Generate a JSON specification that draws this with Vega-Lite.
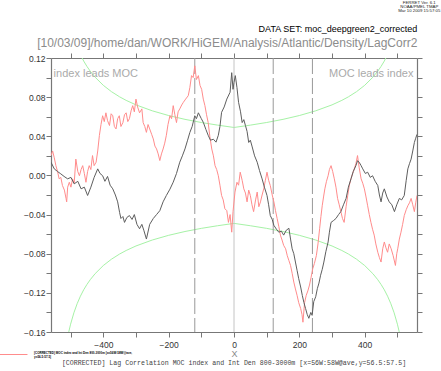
{
  "$schema": "https://vega.github.io/schema/vega-lite/v6.json",
  "width": 366,
  "height": 274,
  "autosize": {"type": "none"},
  "padding": {"left": 51, "top": 58, "right": 24, "bottom": 39},
  "background": "white",
  "view": {"stroke": null},
  "datasets": {
    "black": [
      {"lag":-560,"r":0.0135},{"lag":-550,"r":0.0067},{"lag":-540,"r":0.004},{"lag":-530,"r":0.0016},{"lag":-520,"r":-0.001},{"lag":-509,"r":-0.0035},{"lag":-499,"r":-0.002},{"lag":-489,"r":-0.0086},{"lag":-478,"r":-0.006},{"lag":-468,"r":-0.0137},{"lag":-458,"r":-0.012},{"lag":-448,"r":-0.0205},{"lag":-438,"r":-0.012},{"lag":-428,"r":-0.002},{"lag":-417,"r":0.0067},{"lag":-410,"r":0.002},{"lag":-402,"r":-0.0003},{"lag":-395,"r":-0.006},{"lag":-387,"r":-0.001},{"lag":-379,"r":-0.01},{"lag":-371,"r":-0.0137},{"lag":-363,"r":-0.02},{"lag":-356,"r":-0.027},{"lag":-350,"r":-0.038},{"lag":-346,"r":-0.044},{"lag":-340,"r":-0.042},{"lag":-335,"r":-0.048},{"lag":-328,"r":-0.043},{"lag":-320,"r":-0.041},{"lag":-312,"r":-0.045},{"lag":-305,"r":-0.04},{"lag":-297,"r":-0.05},{"lag":-289,"r":-0.0545},{"lag":-282,"r":-0.05},{"lag":-276,"r":-0.056},{"lag":-268,"r":-0.065},{"lag":-258,"r":-0.05},{"lag":-247,"r":-0.044},{"lag":-237,"r":-0.04},{"lag":-227,"r":-0.036},{"lag":-217,"r":-0.027},{"lag":-207,"r":-0.0205},{"lag":-196,"r":-0.014},{"lag":-186,"r":-0.0069},{"lag":-176,"r":0.002},{"lag":-166,"r":0.0135},{"lag":-158,"r":0.02},{"lag":-150,"r":0.0271},{"lag":-142,"r":0.036},{"lag":-135,"r":0.044},{"lag":-128,"r":0.05},{"lag":-120,"r":0.061},{"lag":-115,"r":0.058},{"lag":-109,"r":0.064},{"lag":-100,"r":0.058},{"lag":-94,"r":0.0543},{"lag":-86,"r":0.047},{"lag":-79,"r":0.041},{"lag":-72,"r":0.036},{"lag":-63,"r":0.037},{"lag":-55,"r":0.034},{"lag":-48,"r":0.041},{"lag":-43,"r":0.05},{"lag":-38,"r":0.0645},{"lag":-30,"r":0.07},{"lag":-22,"r":0.078},{"lag":-12,"r":0.085},{"lag":-7,"r":0.105},{"lag":-3,"r":0.088},{"lag":0,"r":0.095},{"lag":4,"r":0.102},{"lag":9,"r":0.09},{"lag":14,"r":0.0747},{"lag":20,"r":0.065},{"lag":25,"r":0.054},{"lag":30,"r":0.057},{"lag":35,"r":0.051},{"lag":40,"r":0.045},{"lag":45,"r":0.0337},{"lag":50,"r":0.036},{"lag":55,"r":0.03},{"lag":63,"r":0.02},{"lag":71,"r":0.0135},{"lag":78,"r":0.005},{"lag":86,"r":-0.0035},{"lag":93,"r":-0.012},{"lag":101,"r":-0.0205},{"lag":106,"r":-0.03},{"lag":111,"r":-0.041},{"lag":117,"r":-0.045},{"lag":122,"r":-0.051},{"lag":130,"r":-0.055},{"lag":137,"r":-0.058},{"lag":145,"r":-0.057},{"lag":152,"r":-0.061},{"lag":160,"r":-0.056},{"lag":168,"r":-0.054},{"lag":173,"r":-0.065},{"lag":178,"r":-0.075},{"lag":183,"r":-0.08},{"lag":188,"r":-0.0885},{"lag":193,"r":-0.097},{"lag":198,"r":-0.1055},{"lag":204,"r":-0.114},{"lag":209,"r":-0.1226},{"lag":214,"r":-0.13},{"lag":219,"r":-0.136},{"lag":224,"r":-0.142},{"lag":229,"r":-0.146},{"lag":235,"r":-0.14},{"lag":239,"r":-0.143},{"lag":244,"r":-0.129},{"lag":250,"r":-0.124},{"lag":255,"r":-0.1157},{"lag":260,"r":-0.11},{"lag":265,"r":-0.102},{"lag":270,"r":-0.096},{"lag":275,"r":-0.0885},{"lag":281,"r":-0.078},{"lag":288,"r":-0.068},{"lag":292,"r":-0.058},{"lag":297,"r":-0.048},{"lag":305,"r":-0.046},{"lag":312,"r":-0.044},{"lag":320,"r":-0.04},{"lag":327,"r":-0.037},{"lag":335,"r":-0.03},{"lag":343,"r":-0.0235},{"lag":350,"r":-0.012},{"lag":358,"r":-0.0035},{"lag":365,"r":0.004},{"lag":373,"r":0.01},{"lag":378,"r":0.015},{"lag":383,"r":0.0135},{"lag":389,"r":0.01},{"lag":394,"r":0.0067},{"lag":402,"r":0.002},{"lag":409,"r":0.0033},{"lag":417,"r":-0.002},{"lag":424,"r":-0.0003},{"lag":432,"r":-0.006},{"lag":440,"r":-0.0103},{"lag":445,"r":-0.02},{"lag":450,"r":-0.027},{"lag":455,"r":-0.018},{"lag":460,"r":-0.0137},{"lag":468,"r":-0.022},{"lag":475,"r":-0.027},{"lag":483,"r":-0.03},{"lag":491,"r":-0.037},{"lag":498,"r":-0.03},{"lag":506,"r":-0.0235},{"lag":513,"r":-0.025},{"lag":521,"r":-0.0205},{"lag":527,"r":-0.005},{"lag":532,"r":0.0067},{"lag":537,"r":0.012},{"lag":542,"r":0.0167},{"lag":547,"r":0.025},{"lag":552,"r":0.0337},{"lag":556,"r":0.038},{"lag":560,"r":0.042}
    ],
    "red": [
      {"lag":-560,"r":0.0203},{"lag":-555,"r":0.025},{"lag":-550,"r":0.018},{"lag":-545,"r":0.01},{"lag":-540,"r":0.004},{"lag":-535,"r":-0.0035},{"lag":-530,"r":-0.002},{"lag":-525,"r":-0.0103},{"lag":-519,"r":-0.015},{"lag":-514,"r":-0.0235},{"lag":-512,"r":-0.027},{"lag":-509,"r":-0.012},{"lag":-504,"r":-0.007},{"lag":-499,"r":-0.012},{"lag":-494,"r":-0.0035},{"lag":-489,"r":-0.008},{"lag":-484,"r":0.0167},{"lag":-478,"r":0.004},{"lag":-473,"r":-0.0003},{"lag":-468,"r":0.006},{"lag":-463,"r":0.01},{"lag":-458,"r":0.002},{"lag":-453,"r":-0.007},{"lag":-448,"r":0.004},{"lag":-443,"r":0.01},{"lag":-438,"r":0.006},{"lag":-433,"r":0.0203},{"lag":-428,"r":0.01},{"lag":-422,"r":0.0135},{"lag":-417,"r":0.025},{"lag":-412,"r":0.0407},{"lag":-407,"r":0.052},{"lag":-402,"r":0.061},{"lag":-397,"r":0.055},{"lag":-392,"r":0.064},{"lag":-387,"r":0.056},{"lag":-381,"r":0.051},{"lag":-376,"r":0.063},{"lag":-371,"r":0.061},{"lag":-366,"r":0.05},{"lag":-361,"r":0.0475},{"lag":-356,"r":0.058},{"lag":-351,"r":0.061},{"lag":-346,"r":0.05},{"lag":-340,"r":0.054},{"lag":-335,"r":0.062},{"lag":-330,"r":0.064},{"lag":-325,"r":0.055},{"lag":-320,"r":0.058},{"lag":-315,"r":0.066},{"lag":-310,"r":0.0713},{"lag":-305,"r":0.065},{"lag":-300,"r":0.078},{"lag":-295,"r":0.07},{"lag":-289,"r":0.064},{"lag":-282,"r":0.068},{"lag":-278,"r":0.054},{"lag":-273,"r":0.05},{"lag":-268,"r":0.044},{"lag":-263,"r":0.052},{"lag":-258,"r":0.0475},{"lag":-252,"r":0.042},{"lag":-247,"r":0.0373},{"lag":-242,"r":0.03},{"lag":-237,"r":0.0271},{"lag":-232,"r":0.022},{"lag":-227,"r":0.0152},{"lag":-222,"r":0.022},{"lag":-217,"r":0.027},{"lag":-212,"r":0.033},{"lag":-207,"r":0.041},{"lag":-202,"r":0.052},{"lag":-196,"r":0.061},{"lag":-191,"r":0.058},{"lag":-186,"r":0.0713},{"lag":-181,"r":0.062},{"lag":-176,"r":0.054},{"lag":-171,"r":0.065},{"lag":-166,"r":0.068},{"lag":-160,"r":0.072},{"lag":-155,"r":0.0747},{"lag":-148,"r":0.078},{"lag":-140,"r":0.0815},{"lag":-135,"r":0.09},{"lag":-130,"r":0.102},{"lag":-125,"r":0.1},{"lag":-120,"r":0.112},{"lag":-115,"r":0.098},{"lag":-109,"r":0.102},{"lag":-104,"r":0.092},{"lag":-99,"r":0.088},{"lag":-94,"r":0.078},{"lag":-89,"r":0.0713},{"lag":-84,"r":0.062},{"lag":-79,"r":0.054},{"lag":-74,"r":0.04},{"lag":-68,"r":0.027},{"lag":-63,"r":0.02},{"lag":-58,"r":0.01},{"lag":-53,"r":0.006},{"lag":-48,"r":-0.0003},{"lag":-43,"r":-0.01},{"lag":-38,"r":-0.0205},{"lag":-33,"r":-0.025},{"lag":-28,"r":-0.034},{"lag":-22,"r":-0.036},{"lag":-17,"r":-0.048},{"lag":-12,"r":-0.04},{"lag":-7,"r":-0.058},{"lag":-3,"r":-0.037},{"lag":3,"r":-0.017},{"lag":9,"r":-0.007},{"lag":14,"r":-0.01},{"lag":19,"r":0.0033},{"lag":25,"r":-0.005},{"lag":30,"r":-0.0137},{"lag":35,"r":-0.018},{"lag":40,"r":-0.027},{"lag":45,"r":-0.015},{"lag":50,"r":-0.0205},{"lag":55,"r":-0.03},{"lag":60,"r":-0.037},{"lag":66,"r":-0.025},{"lag":71,"r":-0.017},{"lag":76,"r":-0.032},{"lag":81,"r":-0.027},{"lag":86,"r":-0.02},{"lag":91,"r":-0.0137},{"lag":96,"r":-0.005},{"lag":101,"r":0.0033},{"lag":106,"r":-0.005},{"lag":111,"r":-0.0103},{"lag":117,"r":-0.02},{"lag":122,"r":-0.027},{"lag":127,"r":-0.036},{"lag":132,"r":-0.044},{"lag":137,"r":-0.052},{"lag":142,"r":-0.061},{"lag":147,"r":-0.066},{"lag":152,"r":-0.0715},{"lag":158,"r":-0.075},{"lag":163,"r":-0.082},{"lag":168,"r":-0.087},{"lag":173,"r":-0.092},{"lag":178,"r":-0.1},{"lag":183,"r":-0.109},{"lag":188,"r":-0.116},{"lag":193,"r":-0.1225},{"lag":198,"r":-0.13},{"lag":204,"r":-0.136},{"lag":208,"r":-0.142},{"lag":211,"r":-0.15},{"lag":216,"r":-0.13},{"lag":221,"r":-0.1225},{"lag":226,"r":-0.118},{"lag":231,"r":-0.112},{"lag":236,"r":-0.104},{"lag":241,"r":-0.0953},{"lag":246,"r":-0.09},{"lag":252,"r":-0.082},{"lag":257,"r":-0.07},{"lag":262,"r":-0.0545},{"lag":266,"r":-0.042},{"lag":270,"r":-0.031},{"lag":274,"r":-0.022},{"lag":278,"r":-0.0137},{"lag":283,"r":-0.006},{"lag":288,"r":-0.0003},{"lag":292,"r":0.006},{"lag":297,"r":0.01},{"lag":302,"r":0.004},{"lag":307,"r":-0.0035},{"lag":312,"r":-0.012},{"lag":317,"r":-0.0235},{"lag":322,"r":-0.03},{"lag":327,"r":-0.037},{"lag":332,"r":-0.044},{"lag":337,"r":-0.048},{"lag":343,"r":-0.032},{"lag":348,"r":-0.0205},{"lag":353,"r":-0.01},{"lag":358,"r":-0.0035},{"lag":363,"r":0.002},{"lag":368,"r":0.0067},{"lag":373,"r":0.012},{"lag":378,"r":0.0203},{"lag":383,"r":0.008},{"lag":389,"r":-0.0035},{"lag":394,"r":-0.008},{"lag":399,"r":-0.0137},{"lag":404,"r":-0.022},{"lag":409,"r":-0.031},{"lag":414,"r":-0.04},{"lag":419,"r":-0.048},{"lag":424,"r":-0.055},{"lag":429,"r":-0.061},{"lag":434,"r":-0.07},{"lag":440,"r":-0.0785},{"lag":445,"r":-0.084},{"lag":450,"r":-0.0885},{"lag":455,"r":-0.075},{"lag":460,"r":-0.068},{"lag":465,"r":-0.074},{"lag":470,"r":-0.0785},{"lag":475,"r":-0.07},{"lag":481,"r":-0.075},{"lag":487,"r":-0.082},{"lag":494,"r":-0.092},{"lag":498,"r":-0.08},{"lag":501,"r":-0.075},{"lag":506,"r":-0.065},{"lag":511,"r":-0.058},{"lag":516,"r":-0.05},{"lag":521,"r":-0.041},{"lag":527,"r":-0.035},{"lag":532,"r":-0.031},{"lag":537,"r":-0.028},{"lag":542,"r":-0.0235},{"lag":547,"r":-0.03},{"lag":552,"r":-0.037},{"lag":556,"r":-0.028},{"lag":560,"r":-0.0205}
    ],
    "sig": [
      {"lag":-515,"r":0.1765,"side":"upper"},{"lag":-510,"r":0.1671,"side":"upper"},{"lag":-505,"r":0.159,"side":"upper"},{"lag":-500,"r":0.152,"side":"upper"},{"lag":-490,"r":0.1404,"side":"upper"},{"lag":-480,"r":0.1311,"side":"upper"},{"lag":-470,"r":0.1234,"side":"upper"},{"lag":-460,"r":0.1169,"side":"upper"},{"lag":-450,"r":0.1114,"side":"upper"},{"lag":-440,"r":0.1066,"side":"upper"},{"lag":-425,"r":0.1004,"side":"upper"},{"lag":-400,"r":0.0921,"side":"upper"},{"lag":-375,"r":0.0856,"side":"upper"},{"lag":-350,"r":0.0803,"side":"upper"},{"lag":-330,"r":0.0767,"side":"upper"},{"lag":-300,"r":0.0721,"side":"upper"},{"lag":-250,"r":0.066,"side":"upper"},{"lag":-200,"r":0.0612,"side":"upper"},{"lag":-150,"r":0.0573,"side":"upper"},{"lag":-100,"r":0.0541,"side":"upper"},{"lag":-50,"r":0.0514,"side":"upper"},{"lag":0,"r":0.049,"side":"upper"},{"lag":50,"r":0.0514,"side":"upper"},{"lag":100,"r":0.0541,"side":"upper"},{"lag":150,"r":0.0573,"side":"upper"},{"lag":200,"r":0.0612,"side":"upper"},{"lag":250,"r":0.066,"side":"upper"},{"lag":300,"r":0.0721,"side":"upper"},{"lag":330,"r":0.0767,"side":"upper"},{"lag":350,"r":0.0803,"side":"upper"},{"lag":375,"r":0.0856,"side":"upper"},{"lag":400,"r":0.0921,"side":"upper"},{"lag":425,"r":0.1004,"side":"upper"},{"lag":440,"r":0.1066,"side":"upper"},{"lag":450,"r":0.1114,"side":"upper"},{"lag":460,"r":0.1169,"side":"upper"},{"lag":470,"r":0.1234,"side":"upper"},{"lag":480,"r":0.1311,"side":"upper"},{"lag":490,"r":0.1404,"side":"upper"},{"lag":500,"r":0.152,"side":"upper"},{"lag":505,"r":0.159,"side":"upper"},{"lag":510,"r":0.1671,"side":"upper"},{"lag":515,"r":0.1765,"side":"upper"},
      {"lag":-515,"r":-0.1765,"side":"lower"},{"lag":-510,"r":-0.1671,"side":"lower"},{"lag":-505,"r":-0.159,"side":"lower"},{"lag":-500,"r":-0.152,"side":"lower"},{"lag":-490,"r":-0.1404,"side":"lower"},{"lag":-480,"r":-0.1311,"side":"lower"},{"lag":-470,"r":-0.1234,"side":"lower"},{"lag":-460,"r":-0.1169,"side":"lower"},{"lag":-450,"r":-0.1114,"side":"lower"},{"lag":-440,"r":-0.1066,"side":"lower"},{"lag":-425,"r":-0.1004,"side":"lower"},{"lag":-400,"r":-0.0921,"side":"lower"},{"lag":-375,"r":-0.0856,"side":"lower"},{"lag":-350,"r":-0.0803,"side":"lower"},{"lag":-330,"r":-0.0767,"side":"lower"},{"lag":-300,"r":-0.0721,"side":"lower"},{"lag":-250,"r":-0.066,"side":"lower"},{"lag":-200,"r":-0.0612,"side":"lower"},{"lag":-150,"r":-0.0573,"side":"lower"},{"lag":-100,"r":-0.0541,"side":"lower"},{"lag":-50,"r":-0.0514,"side":"lower"},{"lag":0,"r":-0.049,"side":"lower"},{"lag":50,"r":-0.0514,"side":"lower"},{"lag":100,"r":-0.0541,"side":"lower"},{"lag":150,"r":-0.0573,"side":"lower"},{"lag":200,"r":-0.0612,"side":"lower"},{"lag":250,"r":-0.066,"side":"lower"},{"lag":300,"r":-0.0721,"side":"lower"},{"lag":330,"r":-0.0767,"side":"lower"},{"lag":350,"r":-0.0803,"side":"lower"},{"lag":375,"r":-0.0856,"side":"lower"},{"lag":400,"r":-0.0921,"side":"lower"},{"lag":425,"r":-0.1004,"side":"lower"},{"lag":440,"r":-0.1066,"side":"lower"},{"lag":450,"r":-0.1114,"side":"lower"},{"lag":460,"r":-0.1169,"side":"lower"},{"lag":470,"r":-0.1234,"side":"lower"},{"lag":480,"r":-0.1311,"side":"lower"},{"lag":490,"r":-0.1404,"side":"lower"},{"lag":500,"r":-0.152,"side":"lower"},{"lag":505,"r":-0.159,"side":"lower"},{"lag":510,"r":-0.1671,"side":"lower"},{"lag":515,"r":-0.1765,"side":"lower"}
    ],
    "dashlines": [{"lag": -120}, {"lag": 120}, {"lag": 240}],
    "zeroline": [{"lag": 0}]
  },
  "resolve": {"axis": {"x": "independent", "y": "independent"}},
  "layer": [
    {
      "data": {"name": "sig"},
      "mark": {"type": "line", "clip": true, "color": "#a6f2a6", "strokeWidth": 1},
      "encoding": {
        "x": {"field": "lag", "type": "quantitative",
          "scale": {"domain": [-560, 560], "nice": false, "zero": false},
          "axis": {"orient": "bottom", "values": [-500,-400,-300,-200,-100,0,100,200,300,400,500],
            "labelExpr": "datum.value % 200 === 0 ? format(datum.value, 'd') : ''",
            "labelOverlap": false, "labelFlush": false, "labelFont": "Liberation Sans", "labelFontSize": 8.5, "labelColor": "#333333", "labelPadding": 3,
            "tickSize": 5, "tickColor": "#777777", "domainColor": "#777777", "domainWidth": 1.2, "grid": false,
            "title": "X", "titleFont": "Liberation Sans", "titleFontSize": 9, "titleFontWeight": "normal", "titleColor": "#888888", "titlePadding": 1}},
        "y": {"field": "r", "type": "quantitative",
          "scale": {"domain": [-0.16, 0.12], "nice": false, "zero": false},
          "axis": {"orient": "left", "values": [-0.16,-0.14,-0.12,-0.1,-0.08,-0.06,-0.04,-0.02,0,0.02,0.04,0.06,0.08,0.1,0.12],
            "labelExpr": "round(datum.value * 100) % 4 === 0 ? format(datum.value, '.2f') : ''",
            "labelOverlap": false, "labelFlush": false, "labelFont": "Liberation Sans", "labelFontSize": 8.5, "labelColor": "#333333", "labelPadding": 1,
            "tickSize": 5, "tickColor": "#777777", "domainColor": "#777777", "domainWidth": 1.2, "grid": false, "title": null}},
        "detail": {"field": "side"}
      }
    },
    {
      "data": {"name": "dashlines"},
      "mark": {"type": "rule", "color": "#999999", "strokeWidth": 1, "strokeDash": [16, 4]},
      "encoding": {"x": {"field": "lag", "type": "quantitative", "axis": null}}
    },
    {
      "data": {"name": "zeroline"},
      "mark": {"type": "rule", "color": "#c4c4c4", "strokeWidth": 1},
      "encoding": {"x": {"field": "lag", "type": "quantitative", "axis": null}}
    },
    {
      "data": {"name": "red"},
      "mark": {"type": "line", "clip": true, "color": "#ff8c8c", "strokeWidth": 1},
      "encoding": {
        "x": {"field": "lag", "type": "quantitative",
          "axis": {"orient": "top", "values": [-500,-400,-300,-200,-100,0,100,200,300,400,500], "labels": false, "title": null,
            "tickSize": 5, "tickColor": "#777777", "domainColor": "#777777", "domainWidth": 1.2, "grid": false}},
        "y": {"field": "r", "type": "quantitative",
          "axis": {"orient": "right", "values": [-0.16,-0.14,-0.12,-0.1,-0.08,-0.06,-0.04,-0.02,0,0.02,0.04,0.06,0.08,0.1,0.12], "labels": false, "title": null,
            "tickSize": 5, "tickColor": "#777777", "domainColor": "#777777", "domainWidth": 1.2, "grid": false}}
      }
    },
    {
      "data": {"name": "black"},
      "mark": {"type": "line", "clip": true, "color": "#5e5e5e", "strokeWidth": 1},
      "encoding": {
        "x": {"field": "lag", "type": "quantitative", "axis": null},
        "y": {"field": "r", "type": "quantitative", "axis": null}
      }
    },
    {
      "data": {"values": [{"label": "DATA SET: moc_deepgreen2_corrected"}]},
      "mark": {"type": "text", "align": "right", "baseline": "alphabetic", "font": "Liberation Sans", "fontSize": 9, "color": "#000000"},
      "encoding": {
        "x": {"datum": 561, "type": "quantitative", "axis": null},
        "y": {"datum": 0.1468, "type": "quantitative", "axis": null},
        "text": {"field": "label"}
      }
    },
    {
      "data": {"values": [{"label": "[10/03/09]/home/dan/WORK/HiGEM/Analysis/Atlantic/Density/LagCorr2"}]},
      "mark": {"type": "text", "align": "right", "baseline": "alphabetic", "font": "Liberation Sans", "fontSize": 12, "color": "#8c8c8c"},
      "encoding": {
        "x": {"datum": 561, "type": "quantitative", "axis": null},
        "y": {"datum": 0.1315, "type": "quantitative", "axis": null},
        "text": {"field": "label"}
      }
    },
    {
      "data": {"values": [{"label": "index leads MOC"}]},
      "mark": {"type": "text", "align": "left", "baseline": "middle", "font": "Liberation Sans", "fontSize": 11, "color": "#aaaaaa"},
      "encoding": {
        "x": {"datum": -552, "type": "quantitative", "axis": null},
        "y": {"datum": 0.104, "type": "quantitative", "axis": null},
        "text": {"field": "label"}
      }
    },
    {
      "data": {"values": [{"label": "MOC leads index"}]},
      "mark": {"type": "text", "align": "right", "baseline": "middle", "font": "Liberation Sans", "fontSize": 11, "color": "#aaaaaa"},
      "encoding": {
        "x": {"datum": 549, "type": "quantitative", "axis": null},
        "y": {"datum": 0.104, "type": "quantitative", "axis": null},
        "text": {"field": "label"}
      }
    },
    {
      "data": {"values": [{"label": "[CORRECTED] Lag Correlation MOC index and Int Den 800-3000m [x=56W:58W@ave,y=56.5:57.5]"}]},
      "mark": {"type": "text", "align": "center", "baseline": "middle", "font": "Liberation Mono", "fontSize": 6.6, "color": "#444444"},
      "encoding": {
        "x": {"datum": 0, "type": "quantitative", "axis": null},
        "y": {"datum": -0.192, "type": "quantitative", "axis": null},
        "text": {"field": "label"}
      }
    },
    {
      "data": {"values": [{"label": "ferret"}]},
      "mark": {"type": "text", "align": "center", "baseline": "top", "font": "Liberation Sans", "fontSize": 4.3, "lineHeight": 4.2, "color": "#222222",
        "text": ["FERRET Ver. 6.1", "NOAA/PMEL TMAP", "Mar 10 2009 15:57:05"]},
      "encoding": {
        "x": {"datum": 567, "type": "quantitative", "axis": null},
        "y": {"datum": 0.1785, "type": "quantitative", "axis": null}
      }
    },
    {
      "data": {"values": [{"label": "legend"}]},
      "mark": {"type": "rule", "color": "#ff8c8c", "strokeWidth": 1},
      "encoding": {
        "x": {"datum": -718, "type": "quantitative", "axis": null},
        "x2": {"datum": -632},
        "y": {"datum": -0.183, "type": "quantitative", "axis": null}
      }
    },
    {
      "data": {"values": [{"label": "legendtext"}]},
      "mark": {"type": "text", "align": "left", "baseline": "top", "font": "Liberation Sans", "fontSize": 3, "lineHeight": 4.5, "fontWeight": "bold", "color": "#000000",
        "text": ["[CORRECTED] MOC index and Int Den 800-3000m [x=56W:58W@ave,", "y=56.5:57.5]"]},
      "encoding": {
        "x": {"datum": -612, "type": "quantitative", "axis": null},
        "y": {"datum": -0.1802, "type": "quantitative", "axis": null}
      }
    }
  ]
}
